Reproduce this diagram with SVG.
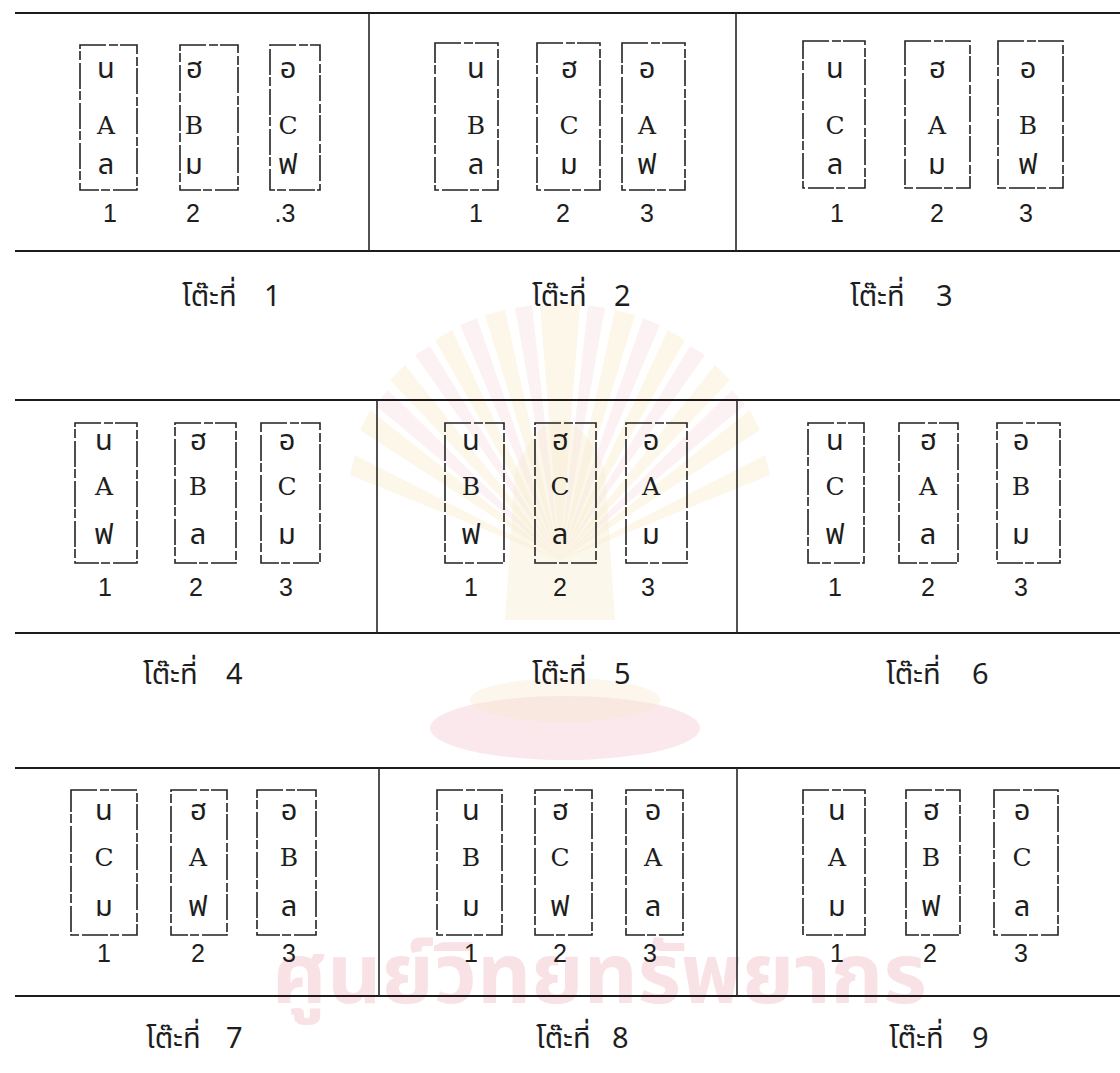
<svg xmlns="http://www.w3.org/2000/svg" width="1120" height="1073" viewBox="0 0 1120 1073">
<style>
.bg{fill:#ffffff}
.hl{stroke:#1c1c1c;stroke-width:2.2;fill:none}
.dv{stroke:#262626;stroke-width:1.6;fill:none}
.box{fill:none;stroke:#222;stroke-width:1.6;stroke-dasharray:26 3 9 2}
.th{font-family:"Noto Sans Thai","Noto Serif Thai","Noto Sans",sans-serif;font-size:29px;fill:#1e1e1e;text-anchor:middle}
.la{font-family:"DejaVu Serif","Liberation Serif",serif;font-size:25px;fill:#1e1e1e;text-anchor:middle}
.num{font-family:"Liberation Sans","DejaVu Sans",sans-serif;font-size:25px;fill:#1e1e1e;text-anchor:middle}
.lab{font-family:"Noto Sans Thai","Noto Serif Thai","Noto Sans",sans-serif;font-size:29px;fill:#1e1e1e}
.wm{font-family:"Noto Sans Thai","Noto Sans",sans-serif;font-size:84px;font-weight:bold;fill:#f8e2e6}
.ray{fill:#f7ecc8;opacity:0.4}
.ray2{fill:#f6dbe0;opacity:0.35}
</style>
<rect class="bg" x="0" y="0" width="1120" height="1073"/>
<g id="watermark">
  <g transform="translate(560,560)">
    <path class="ray" d="M0,0 L-200,-130 L-190,-150 Z M0,0 L-170,-180 L-155,-195 Z M0,0 L-125,-220 L-108,-230 Z M0,0 L-75,-245 L-55,-250 Z M0,0 L-20,-255 L0,-258 Z M0,0 L200,-130 L190,-150 Z M0,0 L170,-180 L155,-195 Z M0,0 L125,-220 L108,-230 Z M0,0 L75,-245 L55,-250 Z M0,0 L20,-255 L0,-258 Z M0,0 L-210,-85 L-205,-105 Z M0,0 L210,-85 L205,-105 Z"/>
    <path class="ray2" d="M0,0 L-185,-155 L-172,-170 Z M0,0 L-145,-205 L-130,-214 Z M0,0 L-100,-235 L-83,-242 Z M0,0 L-45,-252 L-28,-255 Z M0,0 L185,-155 L172,-170 Z M0,0 L145,-205 L130,-214 Z M0,0 L100,-235 L83,-242 Z M0,0 L45,-252 L28,-255 Z"/>
    <path d="M-45,-90 Q0,-190 45,-90 L55,60 L-55,60 Z" fill="#f8ebcc" opacity="0.4"/>
  </g>
  <ellipse cx="565" cy="728" rx="135" ry="32" fill="#f6d6dc" opacity="0.55"/>
  <ellipse cx="565" cy="700" rx="95" ry="22" fill="#f8e8cf" opacity="0.4"/>
  <text class="wm" x="272" y="1003">ศูนย์วิทยทรัพยากร</text>
</g>
<g id="frame">
  <line class="hl" x1="15" y1="13" x2="1120" y2="13"/>
  <line class="hl" x1="15" y1="251" x2="1120" y2="251"/>
  <line class="dv" x1="369" y1="13" x2="369" y2="251"/>
  <line class="dv" x1="736" y1="13" x2="736" y2="251"/>
  <line class="hl" x1="15" y1="400" x2="1120" y2="400"/>
  <line class="hl" x1="15" y1="633" x2="1120" y2="633"/>
  <line class="dv" x1="377" y1="400" x2="377" y2="633"/>
  <line class="dv" x1="737" y1="400" x2="737" y2="633"/>
  <line class="hl" x1="15" y1="768" x2="1120" y2="768"/>
  <line class="hl" x1="15" y1="996" x2="1120" y2="996"/>
  <line class="dv" x1="379" y1="768" x2="379" y2="996"/>
  <line class="dv" x1="737" y1="768" x2="737" y2="996"/>
</g>
<g id="table1">
  <g id="t1s1"><rect class="box" x="80" y="45" width="57" height="145"/><text class="th" x="106" y="78">น</text><text class="la" x="106" y="134">A</text><text class="th" x="106" y="174">ล</text><text class="num" x="110" y="222">1</text></g>
  <g id="t1s2"><rect class="box" x="180" y="45" width="58" height="145"/><text class="th" x="194" y="78">ฮ</text><text class="la" x="194" y="134">B</text><text class="th" x="194" y="174">ม</text><text class="num" x="193" y="222">2</text></g>
  <g id="t1s3"><rect class="box" x="270" y="45" width="50" height="145"/><text class="th" x="288" y="78">อ</text><text class="la" x="288" y="134">C</text><text class="th" x="288" y="174">ฟ</text><text class="num" x="285" y="222">.3</text></g>
  <text class="lab" x="182" y="306">โต๊ะที่<tspan x="264">1</tspan></text>
</g>
<g id="table2">
  <g id="t2s1"><rect class="box" x="435" y="43" width="63" height="147"/><text class="th" x="476" y="78">น</text><text class="la" x="476" y="134">B</text><text class="th" x="476" y="174">ล</text><text class="num" x="476" y="222">1</text></g>
  <g id="t2s2"><rect class="box" x="537" y="43" width="63" height="147"/><text class="th" x="569" y="78">ฮ</text><text class="la" x="569" y="134">C</text><text class="th" x="569" y="174">ม</text><text class="num" x="563" y="222">2</text></g>
  <g id="t2s3"><rect class="box" x="622" y="43" width="63" height="147"/><text class="th" x="647" y="78">อ</text><text class="la" x="647" y="134">A</text><text class="th" x="647" y="174">ฟ</text><text class="num" x="647" y="222">3</text></g>
  <text class="lab" x="532" y="306">โต๊ะที่<tspan x="614">2</tspan></text>
</g>
<g id="table3">
  <g id="t3s1"><rect class="box" x="803" y="41" width="62" height="147"/><text class="th" x="835" y="78">น</text><text class="la" x="835" y="134">C</text><text class="th" x="835" y="174">ล</text><text class="num" x="837" y="222">1</text></g>
  <g id="t3s2"><rect class="box" x="905" y="41" width="65" height="147"/><text class="th" x="937" y="78">ฮ</text><text class="la" x="937" y="134">A</text><text class="th" x="937" y="174">ม</text><text class="num" x="937" y="222">2</text></g>
  <g id="t3s3"><rect class="box" x="998" y="41" width="65" height="147"/><text class="th" x="1028" y="78">อ</text><text class="la" x="1028" y="134">B</text><text class="th" x="1028" y="174">ฟ</text><text class="num" x="1026" y="222">3</text></g>
  <text class="lab" x="850" y="306">โต๊ะที่<tspan x="936">3</tspan></text>
</g>
<g id="table4">
  <g id="t4s1"><rect class="box" x="75" y="423" width="62" height="140"/><text class="th" x="104" y="450">น</text><text class="la" x="104" y="495">A</text><text class="th" x="104" y="544">ฟ</text><text class="num" x="105" y="596">1</text></g>
  <g id="t4s2"><rect class="box" x="175" y="423" width="61" height="140"/><text class="th" x="198" y="450">ฮ</text><text class="la" x="198" y="495">B</text><text class="th" x="198" y="544">ล</text><text class="num" x="196" y="596">2</text></g>
  <g id="t4s3"><rect class="box" x="261" y="423" width="59" height="140"/><text class="th" x="287" y="450">อ</text><text class="la" x="287" y="495">C</text><text class="th" x="287" y="544">ม</text><text class="num" x="286" y="596">3</text></g>
  <text class="lab" x="143" y="684">โต๊ะที่<tspan x="226">4</tspan></text>
</g>
<g id="table5">
  <g id="t5s1"><rect class="box" x="445" y="423" width="59" height="140"/><text class="th" x="471" y="450">น</text><text class="la" x="471" y="495">B</text><text class="th" x="471" y="544">ฟ</text><text class="num" x="471" y="596">1</text></g>
  <g id="t5s2"><rect class="box" x="535" y="423" width="61" height="140"/><text class="th" x="560" y="450">ฮ</text><text class="la" x="560" y="495">C</text><text class="th" x="560" y="544">ล</text><text class="num" x="560" y="596">2</text></g>
  <g id="t5s3"><rect class="box" x="626" y="423" width="61" height="140"/><text class="th" x="651" y="450">อ</text><text class="la" x="651" y="495">A</text><text class="th" x="651" y="544">ม</text><text class="num" x="648" y="596">3</text></g>
  <text class="lab" x="532" y="684">โต๊ะที่<tspan x="614">5</tspan></text>
</g>
<g id="table6">
  <g id="t6s1"><rect class="box" x="808" y="423" width="56" height="140"/><text class="th" x="835" y="450">น</text><text class="la" x="835" y="495">C</text><text class="th" x="835" y="544">ฟ</text><text class="num" x="835" y="596">1</text></g>
  <g id="t6s2"><rect class="box" x="899" y="423" width="59" height="140"/><text class="th" x="928" y="450">ฮ</text><text class="la" x="928" y="495">A</text><text class="th" x="928" y="544">ล</text><text class="num" x="928" y="596">2</text></g>
  <g id="t6s3"><rect class="box" x="997" y="423" width="63" height="140"/><text class="th" x="1021" y="450">อ</text><text class="la" x="1021" y="495">B</text><text class="th" x="1021" y="544">ม</text><text class="num" x="1021" y="596">3</text></g>
  <text class="lab" x="886" y="684">โต๊ะที่<tspan x="972">6</tspan></text>
</g>
<g id="table7">
  <g id="t7s1"><rect class="box" x="71" y="790" width="66" height="145"/><text class="th" x="104" y="820">น</text><text class="la" x="104" y="866">C</text><text class="th" x="104" y="916">ม</text><text class="num" x="104" y="962">1</text></g>
  <g id="t7s2"><rect class="box" x="171" y="790" width="56" height="145"/><text class="th" x="198" y="820">ฮ</text><text class="la" x="198" y="866">A</text><text class="th" x="198" y="916">ฟ</text><text class="num" x="198" y="962">2</text></g>
  <g id="t7s3"><rect class="box" x="257" y="790" width="59" height="145"/><text class="th" x="289" y="820">อ</text><text class="la" x="289" y="866">B</text><text class="th" x="289" y="916">ล</text><text class="num" x="289" y="962">3</text></g>
  <text class="lab" x="146" y="1048">โต๊ะที่<tspan x="226">7</tspan></text>
</g>
<g id="table8">
  <g id="t8s1"><rect class="box" x="437" y="790" width="65" height="145"/><text class="th" x="471" y="820">น</text><text class="la" x="471" y="866">B</text><text class="th" x="471" y="916">ม</text><text class="num" x="471" y="962">1</text></g>
  <g id="t8s2"><rect class="box" x="535" y="790" width="57" height="145"/><text class="th" x="560" y="820">ฮ</text><text class="la" x="560" y="866">C</text><text class="th" x="560" y="916">ฟ</text><text class="num" x="560" y="962">2</text></g>
  <g id="t8s3"><rect class="box" x="626" y="790" width="57" height="145"/><text class="th" x="653" y="820">อ</text><text class="la" x="653" y="866">A</text><text class="th" x="653" y="916">ล</text><text class="num" x="650" y="962">3</text></g>
  <text class="lab" x="536" y="1048">โต๊ะที่<tspan x="612">8</tspan></text>
</g>
<g id="table9">
  <g id="t9s1"><rect class="box" x="803" y="790" width="62" height="145"/><text class="th" x="837" y="820">น</text><text class="la" x="837" y="866">A</text><text class="th" x="837" y="916">ม</text><text class="num" x="837" y="962">1</text></g>
  <g id="t9s2"><rect class="box" x="906" y="790" width="54" height="145"/><text class="th" x="931" y="820">ฮ</text><text class="la" x="931" y="866">B</text><text class="th" x="931" y="916">ฟ</text><text class="num" x="930" y="962">2</text></g>
  <g id="t9s3"><rect class="box" x="994" y="790" width="64" height="145"/><text class="th" x="1022" y="820">อ</text><text class="la" x="1022" y="866">C</text><text class="th" x="1022" y="916">ล</text><text class="num" x="1021" y="962">3</text></g>
  <text class="lab" x="889" y="1048">โต๊ะที่<tspan x="972">9</tspan></text>
</g>
</svg>
